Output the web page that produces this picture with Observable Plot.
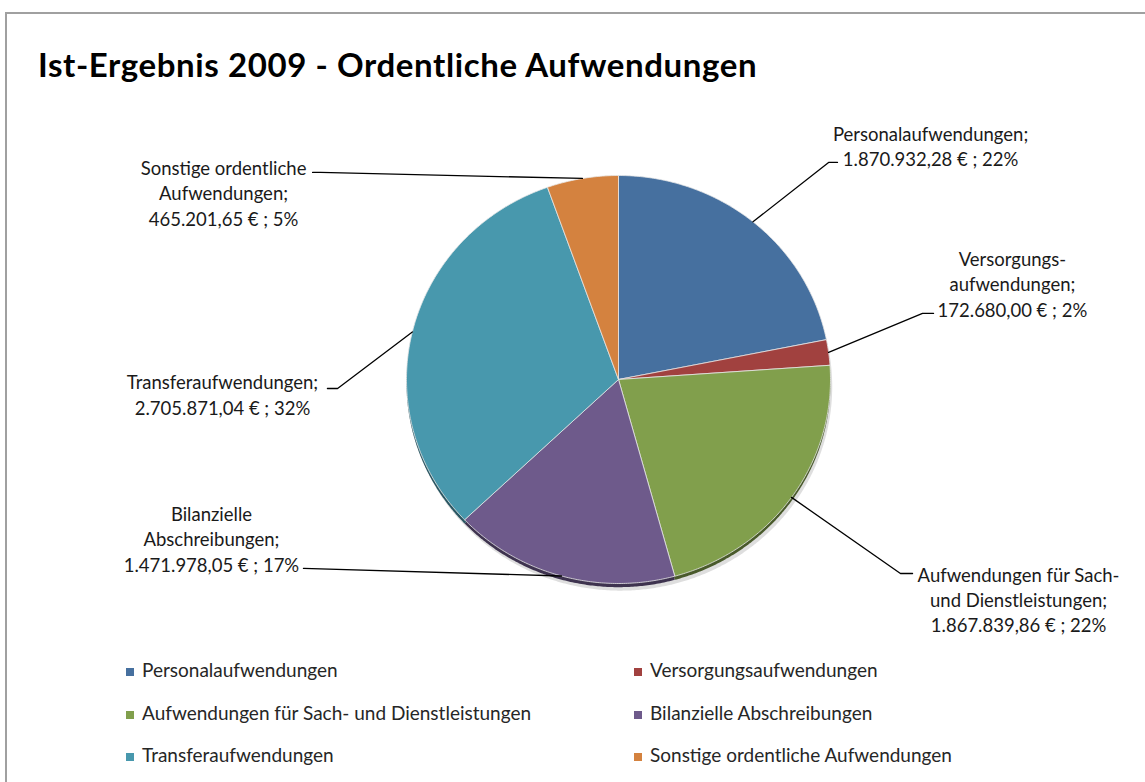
<!DOCTYPE html>
<html><head><meta charset="utf-8">
<script src="https://cdn.jsdelivr.net/npm/d3@7"></script>
<script src="https://cdn.jsdelivr.net/npm/@observablehq/plot@0.6"></script>
<style>
html,body{margin:0;padding:0;background:#fff;overflow:hidden;}
#page{position:relative;width:1145px;height:782px;overflow:hidden;font-family:Lato,"Open Sans",sans-serif;}
#topline{position:absolute;left:5px;top:12px;width:1140px;height:2px;background:#a0a0a0;}
#leftline{position:absolute;left:5px;top:12px;width:2px;height:770px;background:#a0a0a0;}
#title{position:absolute;left:38px;top:45px;margin:0;font-size:33px;letter-spacing:0.6px;line-height:38px;font-weight:bold;color:#000;white-space:nowrap;}
#chart{position:absolute;left:0;top:95px;width:1145px;height:550px;overflow:hidden;}
#legend{position:absolute;left:0;top:0;width:1145px;height:782px;pointer-events:none;}
.li{position:absolute;font-size:19px;line-height:20px;color:#262626;white-space:nowrap;}
.sw{position:absolute;width:8px;height:8px;}
</style>
</head><body>
<div id="page">
  <div id="topline"></div>
  <div id="leftline"></div>
  <h1 id="title">Ist-Ergebnis 2009 - Ordentliche Aufwendungen</h1>
  <div id="chart"></div>
  <div id="legend"></div>
</div>
<script>
// ---- data ----
const categories = [
  "Personalaufwendungen",
  "Versorgungsaufwendungen",
  "Aufwendungen für Sach- und Dienstleistungen",
  "Bilanzielle Abschreibungen",
  "Transferaufwendungen",
  "Sonstige ordentliche Aufwendungen"
];
const labelNames = [
  "Personalaufwendungen;",
  "Versorgungs-\naufwendungen;",
  "Aufwendungen für Sach-\nund Dienstleistungen;",
  "Bilanzielle\nAbschreibungen;",
  "Transferaufwendungen;",
  "Sonstige ordentliche\nAufwendungen;"
];
const amounts = [1870932.28, 172680.00, 1867839.86, 1471978.05, 2705871.04, 465201.65];
const colors = ["#46709f", "#a1413f", "#819f4c", "#6e5a8b", "#4898ad", "#d4823f"];

// ---- layout (pie-radius units, pie centre = 0,0, y up) ----
const W = 1145, H = 550;
const cx = 618, cy = 284, rx = 212, ry = 204;
const labelLayout = [
  {tx: 1.472, ty: 1.147, ex: 0.991, ey: 1.064, fx: 1.033, fy: 1.064},
  {tx: 1.858, ty: 0.471, ex: 1.434, ey: 0.324, fx: 1.486, fy: 0.324},
  {tx: 1.887, ty: -1.074, ex: 1.330, ey: -0.951, fx: 1.387, fy: -0.951},
  {tx: -1.920, ty: -0.779, ex: -1.486, ey: -0.926, fx: -1.486, fy: -0.926},
  {tx: -1.868, ty: -0.071, ex: -1.325, ey: -0.044, fx: -1.373, fy: -0.044},
  {tx: -1.863, ty: 0.917, ex: -1.406, ey: 1.015, fx: -1.443, fy: 1.015}
];

const total = d3.sum(amounts);
const de = d3.formatLocale({decimal: ",", thousands: ".", grouping: [3], currency: ["", "\u202f€"]});
const fmt = de.format(",.2f");

const rows = categories.map((c, i) => ({name: c, value: amounts[i], color: colors[i], i}));
const arcs = d3.pie().sort(null).value(d => d.value)(rows);

function slicePoints(a, dx = 0, dy = 0) {
  const pts = [{x: dx, y: dy}];
  const n = Math.max(2, Math.ceil((a.endAngle - a.startAngle) / (Math.PI / 360)));
  for (let k = 0; k <= n; k++) {
    const t = a.startAngle + (a.endAngle - a.startAngle) * k / n;
    pts.push({x: Math.sin(t) + dx, y: Math.cos(t) + dy});
  }
  pts.push({x: dx, y: dy});
  return pts.map(p => ({...p, name: a.data.name, color: a.data.color}));
}

const slices = arcs.flatMap(a => slicePoints(a));
const rim = arcs.flatMap(a => slicePoints(a, 0, -0.018).map(p => ({...p, name: p.name + "_rim", color: d3.color(a.data.color).darker(1.6).formatHex()})));
const shadow = arcs.flatMap(a => slicePoints(a, 0.008, -0.035).map(p => ({...p, name: p.name + "_sh"})));

const leaders = arcs.flatMap((a, i) => {
  const m = (a.startAngle + a.endAngle) / 2;
  const L = labelLayout[i];
  return [
    {x: Math.sin(m), y: Math.cos(m), name: a.data.name},
    {x: L.ex, y: L.ey, name: a.data.name},
    {x: L.fx, y: L.fy, name: a.data.name}
  ];
});

const labels = rows.map((r, i) => ({
  x: labelLayout[i].tx,
  y: labelLayout[i].ty,
  text: labelNames[i] + "\n" + fmt(r.value) + "\u202f€ ; " + Math.round(r.value / total * 100) + "%"
}));

const chart = Plot.plot({
  width: W, height: H,
  marginTop: 0, marginRight: 0, marginBottom: 0, marginLeft: 0,
  style: {background: "transparent"},
  x: {type: "linear", domain: [-cx / rx, (W - cx) / rx], range: [0, W], axis: null},
  y: {type: "linear", domain: [cy / ry, -(H - cy) / ry], range: [0, H], axis: null},
  marks: [
    Plot.line(shadow, {x: "x", y: "y", z: "name", fill: "#7a7a7a", fillOpacity: 0.25, stroke: "none", curve: "linear"}),
    Plot.line(rim, {x: "x", y: "y", z: "name", fill: d => d.color, stroke: "none", curve: "linear"}),
    Plot.line(slices, {x: "x", y: "y", z: "name", fill: d => d.color, stroke: "#e8e8e8", strokeWidth: 0.8, curve: "linear"}),
    Plot.line(leaders, {x: "x", y: "y", z: "name", stroke: "#000", strokeWidth: 1.3, curve: "linear"}),
    Plot.text(labels, {x: "x", y: "y", text: "text", fontSize: 18.5, lineHeight: 1.36, fill: "#1a1a1a", textAnchor: "middle", fontFamily: "Lato, 'Open Sans', sans-serif"})
  ]
});
document.getElementById("chart").appendChild(chart);

// ---- legend ----
const legend = document.getElementById("legend");
const colX = [126, 634];
const rowTop = [660, 703, 745];
categories.forEach((c, i) => {
  const col = i % 2, row = Math.floor(i / 2);
  const sw = document.createElement("div");
  sw.className = "sw";
  sw.style.left = colX[col] + "px";
  sw.style.top = (rowTop[row] + 8) + "px";
  sw.style.background = colors[i];
  legend.appendChild(sw);
  const t = document.createElement("div");
  t.className = "li";
  t.style.left = (colX[col] + 16) + "px";
  t.style.top = rowTop[row] + "px";
  t.textContent = c;
  legend.appendChild(t);
});
</script>
</body></html>
